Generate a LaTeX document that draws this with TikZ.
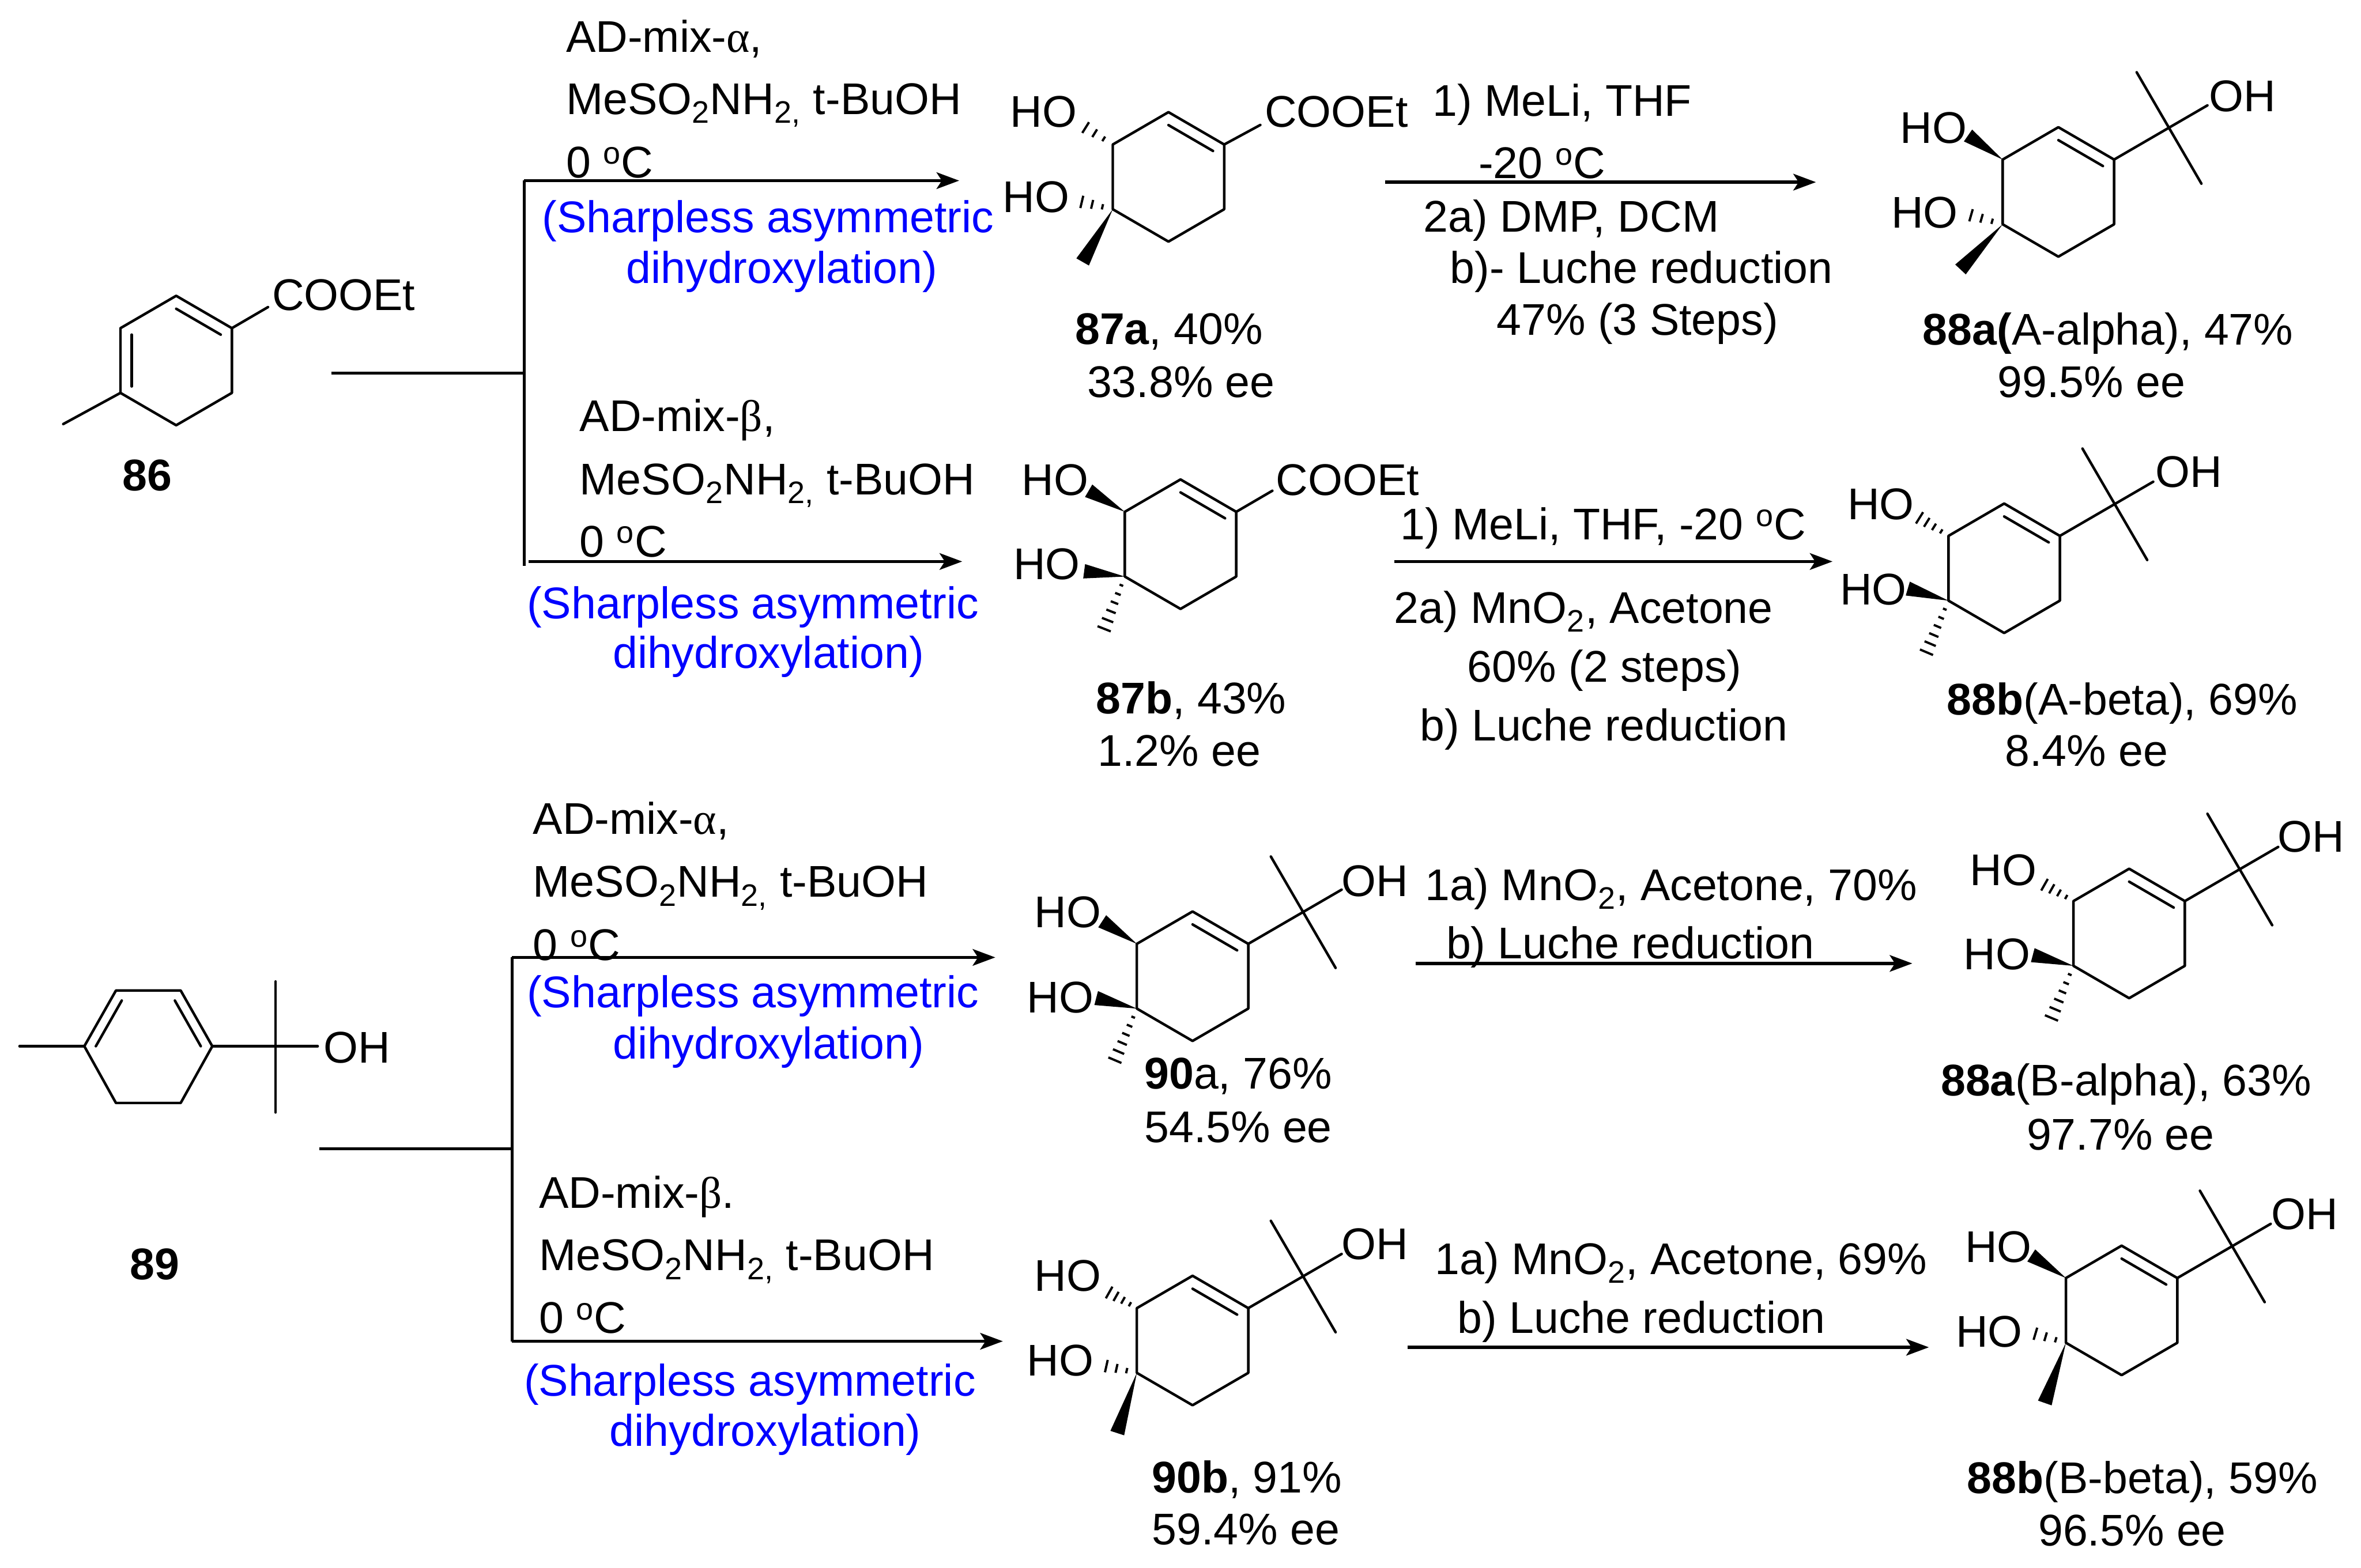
\documentclass[tikz,border=0pt]{standalone}
\usepackage{fontspec}
\setmainfont{Liberation Sans}
\newfontfamily\grk{Liberation Serif}
\usetikzlibrary{calc,arrows.meta}
\definecolor{sharp}{RGB}{0,0,255}
\tikzset{
  lbl/.style={anchor=base west,inner sep=0pt,outer sep=0pt,font=\fontsize{29.5}{33}\selectfont,text=black},
  blu/.style={lbl,text=sharp},
  bond/.style={draw=black,line width=1.7pt,line cap=round,line join=round},
  rxn/.style={draw=black,line width=2.1pt,-{Stealth[length=15pt,width=11pt,inset=3.5pt]}},
  plainln/.style={draw=black,line width=1.9pt}
}
\newcommand\tx[4]{\node[lbl] (#1) at (#2,#3) {#4};}
\newcommand\bt[4]{\node[blu] (#1) at (#2,#3) {#4};}
\newcommand\pt[3]{\coordinate (#1) at (#2,#3);}
\newcommand\hashb[3]{\foreach \i in {1,...,#3}{\pgfmathsetmacro\tt{\i/#3}\pgfmathsetmacro\ww{\tt*4.8+.6}
  \draw[black,line width=1.5pt] ($(#1)!\tt!(#2)!\ww pt!90:(#2)$) -- ($(#1)!\tt!(#2)!\ww pt!-90:(#2)$);}}
\newcommand\wedgeb[2]{\fill[black] (#1) -- ($(#2)!4.8pt!90:(#1)$) -- ($(#2)!4.8pt!-90:(#1)$) -- cycle;}
% ring: top-left vertex at #2,#3
\newcommand\cring[3]{%
  \pt{#1A}{#2}{#3}\pt{#1B}{#2+37}{#3-21.5}\pt{#1C}{#2+74}{#3}\pt{#1D}{#2+74}{#3+43}\pt{#1E}{#2+37}{#3+64.5}\pt{#1F}{#2}{#3+43}\pt{#1O}{#2+37}{#3+21.5}
  \draw[bond] (#1A)--(#1B)--(#1C)--(#1D)--(#1E)--(#1F)--cycle;
  \draw[bond] ($(#1B)!.2!(#1O)$)--($(#1C)!.2!(#1O)$);}
\newcommand\tail[1]{%
  \coordinate (#1Q) at ($(#1C)+(37,-21.5)$);
  \coordinate (#1H) at ($(#1C)+(62,-36)$);
  \coordinate (#1U) at ($(#1C)+(15,-58)$);
  \coordinate (#1V) at ($(#1C)+(58,16)$);
  \draw[bond] (#1C)--(#1H) (#1U)--(#1V);}
\newcommand\msa{MeSO\textsubscript{2}NH\textsubscript{2,} t-BuOH}
\newcommand\zc{0 \textsuperscript{o}C}
\begin{document}
\begin{tikzpicture}[x=1pt,y=-1pt]
\useasboundingbox (0,0) rectangle (1568,1041.6);

% ---- 86
\cring{m}{80}{218}
\draw[bond] ($(mA)!.2!(mO)$)--($(mF)!.2!(mO)$);
\pt{mC1}{178}{204}\pt{mM}{42}{281.7}
\draw[bond] (mC)--(mC1) (mF)--(mM);
\tx{t86c}{180.7}{206}{COOEt}
\tx{t86}{81.5}{326}{\textbf{86}}

% ---- 89
\pt{nA}{56}{695}\pt{nB}{77}{658}\pt{nC}{120}{658}\pt{nD}{141}{695}\pt{nE}{120}{732.7}\pt{nF}{77}{732.7}\pt{nO}{98.5}{695}
\pt{nM}{13}{695}\pt{nQ}{183}{695}\pt{nH}{211}{695}\pt{nU}{183}{652}\pt{nV}{183}{739}
\draw[bond] (nA)--(nB)--(nC)--(nD)--(nE)--(nF)--cycle;
\draw[bond] ($(nA)!.18!(nO)$)--($(nB)!.18!(nO)$) ($(nC)!.18!(nO)$)--($(nD)!.18!(nO)$);
\draw[bond] (nM)--(nA) (nD)--(nH) (nU)--(nV);
\tx{t89h}{214.8}{706}{OH}
\tx{t89}{86.5}{850}{\textbf{89}}

% ---- branch connectors top
\pt{b1s}{220}{248}\pt{b1j}{348}{248}\pt{b1t}{348}{120}\pt{b1b}{348}{376}\pt{b1a}{637}{120}\pt{b1c}{351}{373}\pt{b1d}{639}{373}
\draw[plainln] (b1s)--(b1j) (b1t)--(b1b);
\draw[rxn] (b1t)--(b1a);
\draw[rxn] (b1c)--(b1d);
% ---- branch connectors bottom
\pt{b2s}{212}{763}\pt{b2j}{340}{763}\pt{b2t}{340}{636}\pt{b2b}{340}{891}\pt{b2a}{661}{636}\pt{b2d}{666}{891}
\draw[plainln] (b2s)--(b2j) (b2t)--(b2b);
\draw[rxn] (b2t)--(b2a);
\draw[rxn] (b2b)--(b2d);
% ---- right arrows
\pt{r1a}{920}{121}\pt{r1b}{1206}{121}\draw[rxn] (r1a)--(r1b);
\pt{r2a}{926}{373}\pt{r2b}{1217}{373}\draw[rxn] (r2a)--(r2b);
\pt{r3a}{940}{640}\pt{r3b}{1270}{640}\draw[rxn] (r3a)--(r3b);
\pt{r4a}{935}{895}\pt{r4b}{1281}{895}\draw[rxn] (r4a)--(r4b);

% ---- reagents set 1
\tx{a1}{376}{34.8}{AD-mix-{\grk α},}
\tx{a2}{376}{76}{\msa}
\tx{a3}{376}{118}{\zc}
\bt{a4}{360}{154.4}{(Sharpless asymmetric}
\bt{a5}{416}{188}{dihydroxylation)}
% set 2
\tx{b1}{385}{286.7}{AD-mix-{\grk β},}
\tx{b2}{385}{328.7}{\msa}
\tx{b3}{385}{370}{\zc}
\bt{b4}{350}{411}{(Sharpless asymmetric}
\bt{b5}{407}{444}{dihydroxylation)}
% set 3
\tx{c1}{354}{554}{AD-mix-{\grk α},}
\tx{c2}{354}{596}{\msa}
\tx{c3}{354}{638}{\zc}
\bt{c4}{350}{669.5}{(Sharpless asymmetric}
\bt{c5}{407}{703.5}{dihydroxylation)}
% set 4
\tx{d1}{358}{802.6}{AD-mix-{\grk β}.}
\tx{d2}{358}{844}{\msa}
\tx{d3}{358}{885.8}{\zc}
\bt{d4}{348}{927.4}{(Sharpless asymmetric}
\bt{d5}{405}{960.7}{dihydroxylation)}

% ---- right conditions
\tx{e1}{951.5}{77}{1) MeLi, THF}
\tx{e2}{982}{118.6}{-20 \textsuperscript{o}C}
\tx{e3}{945.5}{154}{2a) DMP, DCM}
\tx{e4}{963}{188}{b)- Luche reduction}
\tx{e5}{994}{222.7}{47\% (3 Steps)}
\tx{f1}{930}{358.6}{1) MeLi, THF, -20 \textsuperscript{o}C}
\tx{f2}{926}{414}{2a) MnO\textsubscript{2}, Acetone}
\tx{f3}{974.6}{453}{60\% (2 steps)}
\tx{f4}{943}{492}{b) Luche reduction}
\tx{g1}{946.4}{598}{1a) MnO\textsubscript{2}, Acetone, 70\%}
\tx{g2}{960.5}{636.8}{b) Luche reduction}
\tx{h1}{953}{846.5}{1a) MnO\textsubscript{2}, Acetone, 69\%}
\tx{h2}{968}{885.7}{b) Luche reduction}

% ---- 87a
\cring{p}{739}{96}
\pt{pC1}{837}{83}\draw[bond] (pC)--(pC1);
\tx{tp}{840}{84.5}{COOEt}
\pt{pa}{715}{81}\hashb{pA}{pa}{4}\tx{tpa}{671}{84.5}{HO}
\pt{pb}{711.6}{132.5}\hashb{pF}{pb}{4}\tx{tpb}{666}{141}{HO}
\pt{pc}{719}{174}\wedgeb{pF}{pc}
\tx{lp1}{714}{228.7}{\textbf{87a}, 40\%}
\tx{lp2}{722}{264}{33.8\% ee}

% ---- 88a A
\cring{q}{1330}{106}\tail{q}
\tx{tqh}{1467}{74}{OH}
\pt{qa}{1307}{90}\wedgeb{qA}{qa}\tx{tqa}{1262}{95}{HO}
\pt{qb}{1302}{141}\hashb{qF}{qb}{4}\tx{tqb}{1256}{151.5}{HO}
\pt{qc}{1302}{179}\wedgeb{qF}{qc}
\tx{lq1}{1277}{229}{\textbf{88a(}A-alpha), 47\%}
\tx{lq2}{1326.6}{264}{99.5\% ee}

% ---- 87b
\cring{s}{747}{340}
\pt{sC1}{845}{326}\draw[bond] (sC)--(sC1);
\tx{ts}{847.4}{329}{COOEt}
\pt{sa}{723}{326}\wedgeb{sA}{sa}\tx{tsa}{678.5}{329}{HO}
\pt{sb}{720}{379.5}\wedgeb{sF}{sb}\tx{tsb}{673}{385}{HO}
\pt{sc}{731}{423.5}\hashb{sF}{sc}{7}
\tx{ls1}{728}{474}{\textbf{87b}, 43\%}
\tx{ls2}{729}{509}{1.2\% ee}

% ---- 88b A
\cring{u}{1294}{356}\tail{u}
\tx{tuh}{1431.6}{323.5}{OH}
\pt{ua}{1270}{341}\hashb{uA}{ua}{5}\tx{tua}{1227}{345}{HO}
\pt{ub}{1267}{391}\wedgeb{uF}{ub}\tx{tub}{1222}{401.6}{HO}
\pt{uc}{1277}{439}\hashb{uF}{uc}{7}
\tx{lu1}{1293}{475}{\textbf{88b}(A-beta), 69\%}
\tx{lu2}{1331.6}{509}{8.4\% ee}

% ---- 90a
\cring{v}{755}{627}\tail{v}
\tx{tvh}{891}{595.6}{OH}
\pt{va}{732}{612}\wedgeb{vA}{va}\tx{tva}{687}{616}{HO}
\pt{vb}{728}{663}\wedgeb{vF}{vb}\tx{tvb}{682}{672.8}{HO}
\pt{vc}{738}{710}\hashb{vF}{vc}{7}
\tx{lv1}{760}{723.4}{\textbf{90}a, 76\%}
\tx{lv2}{760}{759}{54.5\% ee}

% ---- 88a B
\cring{w}{1377}{598.6}\tail{w}
\tx{twh}{1512.6}{566}{OH}
\pt{wa}{1353}{585}\hashb{wA}{wa}{5}\tx{twa}{1308.4}{588}{HO}
\pt{wb}{1350}{634.5}\wedgeb{wF}{wb}\tx{twb}{1304}{644}{HO}
\pt{wc}{1360}{682}\hashb{wF}{wc}{7}
\tx{lw1}{1289}{728}{\textbf{88a}(B-alpha), 63\%}
\tx{lw2}{1346}{763.7}{97.7\% ee}

% ---- 90b
\cring{x}{755}{869}\tail{x}
\tx{txh}{891}{836.8}{OH}
\pt{xa}{732}{856}\hashb{xA}{xa}{5}\tx{txa}{687}{857.5}{HO}
\pt{xb}{728}{906}\hashb{xF}{xb}{4}\tx{txb}{682}{914}{HO}
\pt{xc}{742}{952}\wedgeb{xF}{xc}
\tx{lx1}{765}{991.6}{\textbf{90b}, 91\%}
\tx{lx2}{765}{1026}{59.4\% ee}

% ---- 88b B
\cring{z}{1372}{849}\tail{z}
\tx{tzh}{1508.6}{816.7}{OH}
\pt{za}{1349}{834}\wedgeb{zA}{za}\tx{tza}{1305}{838.5}{HO}
\pt{zb}{1345}{884}\hashb{zF}{zb}{4}\tx{tzb}{1299}{894.7}{HO}
\pt{zc}{1358}{932}\wedgeb{zF}{zc}
\tx{lz1}{1306.4}{992}{\textbf{88b}(B-beta), 59\%}
\tx{lz2}{1353.7}{1027}{96.5\% ee}
\end{tikzpicture}
\end{document}
